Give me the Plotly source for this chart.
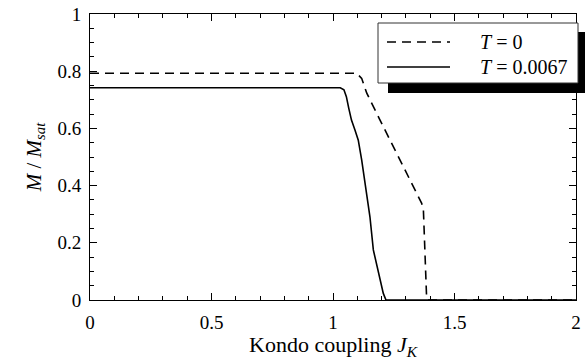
import plotly.graph_objects as go

# Data
jk_t0 = [0.0, 1.097, 1.118, 1.139, 1.193, 1.303, 1.365, 1.372, 1.385, 1.39, 2.0]
m_t0 = [0.793, 0.793, 0.775, 0.723, 0.630, 0.443, 0.338, 0.315, 0.012, 0.0, 0.0]

jk_t = [0.0, 1.03, 1.045, 1.055, 1.065, 1.076, 1.09, 1.104, 1.118, 1.131,
        1.152, 1.166, 1.187, 1.207, 1.218, 2.0]
m_t = [0.742, 0.742, 0.735, 0.711, 0.67, 0.629, 0.595, 0.559, 0.49, 0.42,
       0.291, 0.175, 0.093, 0.023, 0.0, 0.0]

labels = ["<i>T</i> = 0", "<i>T</i> = 0.0067"]
x_ticks = [0, 0.5, 1, 1.5, 2]
x_tick_text = ["0", "0.5", "1", "1.5", "2"]
y_ticks = [0, 0.2, 0.4, 0.6, 0.8, 1]
y_tick_text = ["0", "0.2", "0.4", "0.6", "0.8", "1"]

FONT = "Liberation Serif"

fig = go.Figure()
fig.add_trace(go.Scatter(x=jk_t0, y=m_t0, mode="lines", name=labels[0],
                         line=dict(color="black", width=1.6, dash="9px,6px")))
fig.add_trace(go.Scatter(x=jk_t, y=m_t, mode="lines", name=labels[1],
                         line=dict(color="black", width=1.6)))

L, R, T, B = 90, 9, 14, 60
W, H = 585, 360
pw, ph = W - L - R, H - T - B


def px(xp):
    return (xp - L) / pw


def py(yp):
    return (H - B - yp) / ph


shapes = [
    # shadow
    dict(type="rect", xref="paper", yref="paper", x0=px(388), x1=px(600),
         y0=py(93), y1=py(32), fillcolor="black", line=dict(width=0), layer="above"),
    # box
    dict(type="rect", xref="paper", yref="paper", x0=px(378), x1=px(578),
         y0=py(83), y1=py(23), fillcolor="white",
         line=dict(color="#333333", width=1), layer="above"),
    dict(type="line", xref="paper", yref="paper", x0=px(387), x1=px(450),
         y0=py(42), y1=py(42), line=dict(color="black", width=1.6, dash="9px,6px"),
         layer="above"),
    dict(type="line", xref="paper", yref="paper", x0=px(387), x1=px(450),
         y0=py(67), y1=py(67), line=dict(color="black", width=1.6), layer="above"),
]
annotations = [
    dict(xref="paper", yref="paper", x=px(478), y=py(42), text=labels[0],
         showarrow=False, xanchor="left", yanchor="middle",
         font=dict(family=FONT, size=20, color="black")),
    dict(xref="paper", yref="paper", x=px(478), y=py(67), text=labels[1],
         showarrow=False, xanchor="left", yanchor="middle",
         font=dict(family=FONT, size=20, color="black")),
]

axis_common = dict(
    showline=True, linecolor="black", linewidth=1, mirror="allticks",
    ticks="inside", ticklen=7, tickwidth=1, tickcolor="black",
    showgrid=False, zeroline=False, ticklabeloverflow="allow",
    tickfont=dict(family=FONT, size=19, color="black"),
)

fig.update_layout(
    width=W, height=H,
    margin=dict(l=L, r=R, t=T, b=B, autoexpand=False),
    plot_bgcolor="white", paper_bgcolor="white",
    showlegend=False,
    font=dict(family=FONT, color="black"),
    shapes=shapes, annotations=annotations,
    xaxis=dict(range=[0, 2], tickvals=x_ticks, ticktext=x_tick_text,
               minor=dict(dtick=0.1, ticks="inside", ticklen=4, tickcolor="black"),
               ticklabelstandoff=5,
               title=dict(text="Kondo coupling <i>J<sub>K</sub></i>",
                          font=dict(family=FONT, size=22, color="black"), standoff=3),
               **axis_common),
    yaxis=dict(range=[0, 1], tickvals=y_ticks, ticktext=y_tick_text,
               minor=dict(dtick=0.05, ticks="inside", ticklen=4, tickcolor="black"),
               ticklabelstandoff=4,
               title=dict(text="<i>M</i> / <i>M<sub>sat</sub></i>",
                          font=dict(family=FONT, size=21, color="black"), standoff=10),
               **axis_common),
)

fig.write_html("out.html", config={"displayModeBar": False},
               post_script="document.body.style.margin='0';")
